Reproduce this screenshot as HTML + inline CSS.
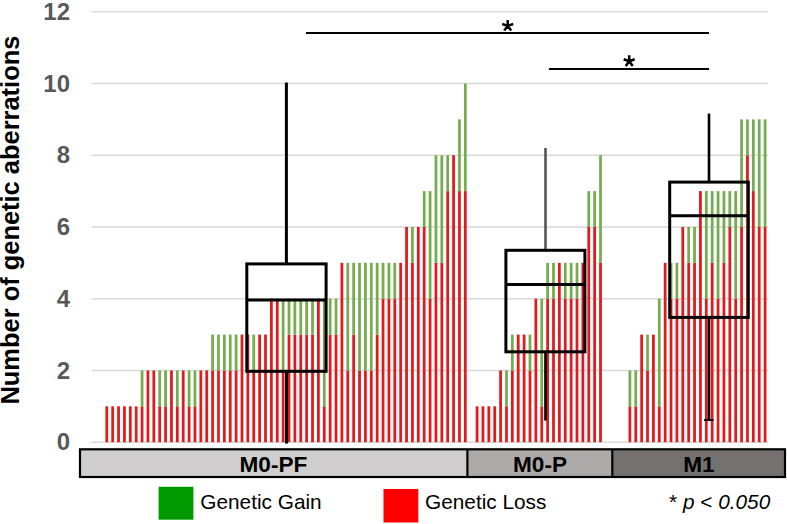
<!DOCTYPE html>
<html><head><meta charset="utf-8"><style>
html,body{margin:0;padding:0;background:#fff;}
svg{display:block;}
text{font-family:"Liberation Sans",sans-serif;}
.tick{font-size:24px;font-weight:bold;fill:#595959;}
.cat{font-size:22.6px;font-weight:bold;fill:#000;}
.leg{font-size:20.8px;fill:#000;}
.ast{font-size:38px;fill:#000;}
.yt{font-size:25.45px;font-weight:bold;fill:#000;}
</style></head><body>
<svg width="787" height="524" viewBox="0 0 787 524">
<rect width="787" height="524" fill="#fff"/>
<line x1="91.4" x2="768" y1="442.20" y2="442.20" stroke="#d9d9d9" stroke-width="1.5"/><line x1="91.4" x2="768" y1="370.46" y2="370.46" stroke="#d9d9d9" stroke-width="1.5"/><line x1="91.4" x2="768" y1="298.72" y2="298.72" stroke="#d9d9d9" stroke-width="1.5"/><line x1="91.4" x2="768" y1="226.98" y2="226.98" stroke="#d9d9d9" stroke-width="1.5"/><line x1="91.4" x2="768" y1="155.24" y2="155.24" stroke="#d9d9d9" stroke-width="1.5"/><line x1="91.4" x2="768" y1="83.50" y2="83.50" stroke="#d9d9d9" stroke-width="1.5"/><line x1="91.4" x2="768" y1="11.76" y2="11.76" stroke="#d9d9d9" stroke-width="1.5"/>
<rect x="105.42" y="406.33" width="2.75" height="35.87" fill="#e11a1c"/><rect x="111.30" y="406.33" width="2.75" height="35.87" fill="#e11a1c"/><rect x="117.18" y="406.33" width="2.75" height="35.87" fill="#e11a1c"/><rect x="123.06" y="406.33" width="2.75" height="35.87" fill="#e11a1c"/><rect x="128.94" y="406.33" width="2.75" height="35.87" fill="#e11a1c"/><rect x="134.81" y="406.33" width="2.75" height="35.87" fill="#e11a1c"/><rect x="140.69" y="406.33" width="2.75" height="35.87" fill="#e11a1c"/><rect x="140.69" y="370.46" width="2.75" height="35.87" fill="#74ac4e"/><rect x="146.57" y="370.46" width="2.75" height="71.74" fill="#e11a1c"/><rect x="152.44" y="370.46" width="2.75" height="71.74" fill="#e11a1c"/><rect x="158.32" y="406.33" width="2.75" height="35.87" fill="#e11a1c"/><rect x="158.32" y="370.46" width="2.75" height="35.87" fill="#74ac4e"/><rect x="164.20" y="406.33" width="2.75" height="35.87" fill="#e11a1c"/><rect x="164.20" y="370.46" width="2.75" height="35.87" fill="#74ac4e"/><rect x="170.08" y="370.46" width="2.75" height="71.74" fill="#e11a1c"/><rect x="175.95" y="406.33" width="2.75" height="35.87" fill="#e11a1c"/><rect x="175.95" y="370.46" width="2.75" height="35.87" fill="#74ac4e"/><rect x="181.83" y="370.46" width="2.75" height="71.74" fill="#e11a1c"/><rect x="187.71" y="406.33" width="2.75" height="35.87" fill="#e11a1c"/><rect x="187.71" y="370.46" width="2.75" height="35.87" fill="#74ac4e"/><rect x="193.59" y="406.33" width="2.75" height="35.87" fill="#e11a1c"/><rect x="193.59" y="370.46" width="2.75" height="35.87" fill="#74ac4e"/><rect x="199.47" y="370.46" width="2.75" height="71.74" fill="#e11a1c"/><rect x="205.34" y="370.46" width="2.75" height="71.74" fill="#e11a1c"/><rect x="211.22" y="370.46" width="2.75" height="71.74" fill="#e11a1c"/><rect x="211.22" y="334.59" width="2.75" height="35.87" fill="#74ac4e"/><rect x="217.10" y="370.46" width="2.75" height="71.74" fill="#e11a1c"/><rect x="217.10" y="334.59" width="2.75" height="35.87" fill="#74ac4e"/><rect x="222.98" y="370.46" width="2.75" height="71.74" fill="#e11a1c"/><rect x="222.98" y="334.59" width="2.75" height="35.87" fill="#74ac4e"/><rect x="228.85" y="370.46" width="2.75" height="71.74" fill="#e11a1c"/><rect x="228.85" y="334.59" width="2.75" height="35.87" fill="#74ac4e"/><rect x="234.73" y="370.46" width="2.75" height="71.74" fill="#e11a1c"/><rect x="234.73" y="334.59" width="2.75" height="35.87" fill="#74ac4e"/><rect x="240.61" y="334.59" width="2.75" height="107.61" fill="#e11a1c"/><rect x="246.49" y="334.59" width="2.75" height="107.61" fill="#e11a1c"/><rect x="252.36" y="370.46" width="2.75" height="71.74" fill="#e11a1c"/><rect x="252.36" y="334.59" width="2.75" height="35.87" fill="#74ac4e"/><rect x="258.24" y="334.59" width="2.75" height="107.61" fill="#e11a1c"/><rect x="264.12" y="334.59" width="2.75" height="107.61" fill="#e11a1c"/><rect x="270.00" y="298.72" width="2.75" height="143.48" fill="#e11a1c"/><rect x="275.87" y="298.72" width="2.75" height="143.48" fill="#e11a1c"/><rect x="281.75" y="370.46" width="2.75" height="71.74" fill="#e11a1c"/><rect x="281.75" y="298.72" width="2.75" height="71.74" fill="#74ac4e"/><rect x="287.63" y="334.59" width="2.75" height="107.61" fill="#e11a1c"/><rect x="287.63" y="298.72" width="2.75" height="35.87" fill="#74ac4e"/><rect x="293.50" y="334.59" width="2.75" height="107.61" fill="#e11a1c"/><rect x="293.50" y="298.72" width="2.75" height="35.87" fill="#74ac4e"/><rect x="299.38" y="334.59" width="2.75" height="107.61" fill="#e11a1c"/><rect x="299.38" y="298.72" width="2.75" height="35.87" fill="#74ac4e"/><rect x="305.26" y="334.59" width="2.75" height="107.61" fill="#e11a1c"/><rect x="305.26" y="298.72" width="2.75" height="35.87" fill="#74ac4e"/><rect x="311.14" y="334.59" width="2.75" height="107.61" fill="#e11a1c"/><rect x="311.14" y="298.72" width="2.75" height="35.87" fill="#74ac4e"/><rect x="317.01" y="298.72" width="2.75" height="143.48" fill="#e11a1c"/><rect x="322.89" y="406.33" width="2.75" height="35.87" fill="#e11a1c"/><rect x="322.89" y="298.72" width="2.75" height="107.61" fill="#74ac4e"/><rect x="328.77" y="334.59" width="2.75" height="107.61" fill="#e11a1c"/><rect x="328.77" y="298.72" width="2.75" height="35.87" fill="#74ac4e"/><rect x="334.65" y="334.59" width="2.75" height="107.61" fill="#e11a1c"/><rect x="334.65" y="298.72" width="2.75" height="35.87" fill="#74ac4e"/><rect x="340.53" y="262.85" width="2.75" height="179.35" fill="#e11a1c"/><rect x="346.40" y="370.46" width="2.75" height="71.74" fill="#e11a1c"/><rect x="346.40" y="262.85" width="2.75" height="107.61" fill="#74ac4e"/><rect x="352.28" y="334.59" width="2.75" height="107.61" fill="#e11a1c"/><rect x="352.28" y="262.85" width="2.75" height="71.74" fill="#74ac4e"/><rect x="358.16" y="370.46" width="2.75" height="71.74" fill="#e11a1c"/><rect x="358.16" y="262.85" width="2.75" height="107.61" fill="#74ac4e"/><rect x="364.04" y="370.46" width="2.75" height="71.74" fill="#e11a1c"/><rect x="364.04" y="262.85" width="2.75" height="107.61" fill="#74ac4e"/><rect x="369.91" y="370.46" width="2.75" height="71.74" fill="#e11a1c"/><rect x="369.91" y="262.85" width="2.75" height="107.61" fill="#74ac4e"/><rect x="375.79" y="334.59" width="2.75" height="107.61" fill="#e11a1c"/><rect x="375.79" y="262.85" width="2.75" height="71.74" fill="#74ac4e"/><rect x="381.67" y="298.72" width="2.75" height="143.48" fill="#e11a1c"/><rect x="381.67" y="262.85" width="2.75" height="35.87" fill="#74ac4e"/><rect x="387.55" y="298.72" width="2.75" height="143.48" fill="#e11a1c"/><rect x="387.55" y="262.85" width="2.75" height="35.87" fill="#74ac4e"/><rect x="393.42" y="298.72" width="2.75" height="143.48" fill="#e11a1c"/><rect x="393.42" y="262.85" width="2.75" height="35.87" fill="#74ac4e"/><rect x="399.30" y="262.85" width="2.75" height="179.35" fill="#e11a1c"/><rect x="405.18" y="226.98" width="2.75" height="215.22" fill="#e11a1c"/><rect x="411.06" y="262.85" width="2.75" height="179.35" fill="#e11a1c"/><rect x="411.06" y="226.98" width="2.75" height="35.87" fill="#74ac4e"/><rect x="416.93" y="226.98" width="2.75" height="215.22" fill="#e11a1c"/><rect x="422.81" y="226.98" width="2.75" height="215.22" fill="#e11a1c"/><rect x="422.81" y="191.11" width="2.75" height="35.87" fill="#74ac4e"/><rect x="428.69" y="298.72" width="2.75" height="143.48" fill="#e11a1c"/><rect x="428.69" y="191.11" width="2.75" height="107.61" fill="#74ac4e"/><rect x="434.57" y="262.85" width="2.75" height="179.35" fill="#e11a1c"/><rect x="434.57" y="155.24" width="2.75" height="107.61" fill="#74ac4e"/><rect x="440.44" y="262.85" width="2.75" height="179.35" fill="#e11a1c"/><rect x="440.44" y="155.24" width="2.75" height="107.61" fill="#74ac4e"/><rect x="446.32" y="191.11" width="2.75" height="251.09" fill="#e11a1c"/><rect x="446.32" y="155.24" width="2.75" height="35.87" fill="#74ac4e"/><rect x="452.20" y="155.24" width="2.75" height="286.96" fill="#e11a1c"/><rect x="458.08" y="191.11" width="2.75" height="251.09" fill="#e11a1c"/><rect x="458.08" y="119.37" width="2.75" height="71.74" fill="#74ac4e"/><rect x="463.95" y="191.11" width="2.75" height="251.09" fill="#e11a1c"/><rect x="463.95" y="83.50" width="2.75" height="107.61" fill="#74ac4e"/><rect x="475.71" y="406.33" width="2.75" height="35.87" fill="#e11a1c"/><rect x="481.59" y="406.33" width="2.75" height="35.87" fill="#e11a1c"/><rect x="487.46" y="406.33" width="2.75" height="35.87" fill="#e11a1c"/><rect x="493.34" y="406.33" width="2.75" height="35.87" fill="#e11a1c"/><rect x="499.22" y="370.46" width="2.75" height="71.74" fill="#e11a1c"/><rect x="505.10" y="406.33" width="2.75" height="35.87" fill="#e11a1c"/><rect x="505.10" y="370.46" width="2.75" height="35.87" fill="#74ac4e"/><rect x="510.97" y="370.46" width="2.75" height="71.74" fill="#e11a1c"/><rect x="510.97" y="334.59" width="2.75" height="35.87" fill="#74ac4e"/><rect x="516.85" y="334.59" width="2.75" height="107.61" fill="#e11a1c"/><rect x="522.73" y="334.59" width="2.75" height="107.61" fill="#e11a1c"/><rect x="528.61" y="370.46" width="2.75" height="71.74" fill="#e11a1c"/><rect x="528.61" y="334.59" width="2.75" height="35.87" fill="#74ac4e"/><rect x="534.48" y="298.72" width="2.75" height="143.48" fill="#e11a1c"/><rect x="540.36" y="406.33" width="2.75" height="35.87" fill="#e11a1c"/><rect x="540.36" y="298.72" width="2.75" height="107.61" fill="#74ac4e"/><rect x="546.24" y="298.72" width="2.75" height="143.48" fill="#e11a1c"/><rect x="546.24" y="262.85" width="2.75" height="35.87" fill="#74ac4e"/><rect x="552.12" y="298.72" width="2.75" height="143.48" fill="#e11a1c"/><rect x="552.12" y="262.85" width="2.75" height="35.87" fill="#74ac4e"/><rect x="557.99" y="262.85" width="2.75" height="179.35" fill="#e11a1c"/><rect x="563.87" y="298.72" width="2.75" height="143.48" fill="#e11a1c"/><rect x="563.87" y="262.85" width="2.75" height="35.87" fill="#74ac4e"/><rect x="569.75" y="298.72" width="2.75" height="143.48" fill="#e11a1c"/><rect x="569.75" y="262.85" width="2.75" height="35.87" fill="#74ac4e"/><rect x="575.62" y="298.72" width="2.75" height="143.48" fill="#e11a1c"/><rect x="575.62" y="262.85" width="2.75" height="35.87" fill="#74ac4e"/><rect x="581.50" y="262.85" width="2.75" height="179.35" fill="#e11a1c"/><rect x="587.38" y="226.98" width="2.75" height="215.22" fill="#e11a1c"/><rect x="587.38" y="191.11" width="2.75" height="35.87" fill="#74ac4e"/><rect x="593.26" y="226.98" width="2.75" height="215.22" fill="#e11a1c"/><rect x="593.26" y="191.11" width="2.75" height="35.87" fill="#74ac4e"/><rect x="599.13" y="262.85" width="2.75" height="179.35" fill="#e11a1c"/><rect x="599.13" y="155.24" width="2.75" height="107.61" fill="#74ac4e"/><rect x="628.52" y="406.33" width="2.75" height="35.87" fill="#e11a1c"/><rect x="628.52" y="370.46" width="2.75" height="35.87" fill="#74ac4e"/><rect x="634.40" y="406.33" width="2.75" height="35.87" fill="#e11a1c"/><rect x="634.40" y="370.46" width="2.75" height="35.87" fill="#74ac4e"/><rect x="640.28" y="334.59" width="2.75" height="107.61" fill="#e11a1c"/><rect x="646.15" y="370.46" width="2.75" height="71.74" fill="#e11a1c"/><rect x="646.15" y="334.59" width="2.75" height="35.87" fill="#74ac4e"/><rect x="652.03" y="334.59" width="2.75" height="107.61" fill="#e11a1c"/><rect x="657.91" y="406.33" width="2.75" height="35.87" fill="#e11a1c"/><rect x="657.91" y="298.72" width="2.75" height="107.61" fill="#74ac4e"/><rect x="663.79" y="262.85" width="2.75" height="179.35" fill="#e11a1c"/><rect x="669.66" y="298.72" width="2.75" height="143.48" fill="#e11a1c"/><rect x="669.66" y="262.85" width="2.75" height="35.87" fill="#74ac4e"/><rect x="675.54" y="298.72" width="2.75" height="143.48" fill="#e11a1c"/><rect x="675.54" y="262.85" width="2.75" height="35.87" fill="#74ac4e"/><rect x="681.42" y="226.98" width="2.75" height="215.22" fill="#e11a1c"/><rect x="687.30" y="262.85" width="2.75" height="179.35" fill="#e11a1c"/><rect x="687.30" y="226.98" width="2.75" height="35.87" fill="#74ac4e"/><rect x="693.17" y="262.85" width="2.75" height="179.35" fill="#e11a1c"/><rect x="693.17" y="226.98" width="2.75" height="35.87" fill="#74ac4e"/><rect x="699.05" y="191.11" width="2.75" height="251.09" fill="#e11a1c"/><rect x="704.93" y="298.72" width="2.75" height="143.48" fill="#e11a1c"/><rect x="704.93" y="191.11" width="2.75" height="107.61" fill="#74ac4e"/><rect x="710.81" y="262.85" width="2.75" height="179.35" fill="#e11a1c"/><rect x="710.81" y="191.11" width="2.75" height="71.74" fill="#74ac4e"/><rect x="716.68" y="298.72" width="2.75" height="143.48" fill="#e11a1c"/><rect x="716.68" y="191.11" width="2.75" height="107.61" fill="#74ac4e"/><rect x="722.56" y="262.85" width="2.75" height="179.35" fill="#e11a1c"/><rect x="722.56" y="191.11" width="2.75" height="71.74" fill="#74ac4e"/><rect x="728.44" y="226.98" width="2.75" height="215.22" fill="#e11a1c"/><rect x="728.44" y="191.11" width="2.75" height="35.87" fill="#74ac4e"/><rect x="734.32" y="298.72" width="2.75" height="143.48" fill="#e11a1c"/><rect x="734.32" y="191.11" width="2.75" height="107.61" fill="#74ac4e"/><rect x="740.20" y="226.98" width="2.75" height="215.22" fill="#e11a1c"/><rect x="740.20" y="119.37" width="2.75" height="107.61" fill="#74ac4e"/><rect x="746.07" y="155.24" width="2.75" height="286.96" fill="#e11a1c"/><rect x="746.07" y="119.37" width="2.75" height="35.87" fill="#74ac4e"/><rect x="751.95" y="191.11" width="2.75" height="251.09" fill="#e11a1c"/><rect x="751.95" y="119.37" width="2.75" height="71.74" fill="#74ac4e"/><rect x="757.83" y="226.98" width="2.75" height="215.22" fill="#e11a1c"/><rect x="757.83" y="119.37" width="2.75" height="107.61" fill="#74ac4e"/><rect x="763.71" y="226.98" width="2.75" height="215.22" fill="#e11a1c"/><rect x="763.71" y="119.37" width="2.75" height="107.61" fill="#74ac4e"/>
<line x1="286.4" x2="286.4" y1="82.6" y2="263.9" stroke="#000" stroke-width="3"/><line x1="286.5" x2="286.5" y1="371.2" y2="443.5" stroke="#000" stroke-width="3"/><rect x="246.8" y="263.9" width="79.30000000000001" height="107.40000000000003" fill="none" stroke="#000" stroke-width="3"/><line x1="246.8" x2="326.1" y1="299.9" y2="299.9" stroke="#000" stroke-width="3"/><line x1="545.5" x2="545.5" y1="148" y2="250.3" stroke="#555" stroke-width="2.6"/><line x1="545.5" x2="545.5" y1="351.8" y2="420.6" stroke="#000" stroke-width="2.7"/><rect x="505.9" y="250.3" width="79.0" height="101.5" fill="none" stroke="#000" stroke-width="3"/><line x1="505.9" x2="584.9" y1="284.4" y2="284.4" stroke="#000" stroke-width="3"/><line x1="709" x2="709" y1="113.6" y2="182.1" stroke="#000" stroke-width="2.6"/><line x1="709" x2="709" y1="317.4" y2="420.5" stroke="#000" stroke-width="2.6"/><line x1="704" x2="713.5" y1="420" y2="420" stroke="#000" stroke-width="1.8"/><rect x="669.7" y="182.1" width="78.59999999999991" height="135.29999999999998" fill="none" stroke="#000" stroke-width="3"/><line x1="669.7" x2="748.3" y1="215.8" y2="215.8" stroke="#000" stroke-width="3"/>

<line x1="305.9" x2="709" y1="32.9" y2="32.9" stroke="#000" stroke-width="2"/>
<line x1="548.9" x2="709" y1="68.9" y2="68.9" stroke="#000" stroke-width="2"/>
<path d="M507.70 25.90L507.70 20.00M507.70 25.90L502.20 24.00M507.70 25.90L513.20 24.00M507.70 25.90L504.20 30.60M507.70 25.90L511.20 30.60" stroke="#000" stroke-width="2.5" fill="none"/>
<path d="M629.20 61.20L629.20 55.30M629.20 61.20L623.70 59.30M629.20 61.20L634.70 59.30M629.20 61.20L625.70 65.90M629.20 61.20L632.70 65.90" stroke="#000" stroke-width="2.5" fill="none"/>

<text x="70" y="450.40" text-anchor="end" class="tick">0</text><text x="70" y="378.66" text-anchor="end" class="tick">2</text><text x="70" y="306.92" text-anchor="end" class="tick">4</text><text x="70" y="235.18" text-anchor="end" class="tick">6</text><text x="70" y="163.44" text-anchor="end" class="tick">8</text><text x="70" y="91.70" text-anchor="end" class="tick">10</text><text x="70" y="19.96" text-anchor="end" class="tick">12</text>

<rect x="80" y="449.3" width="387.4" height="27.7" fill="#d0cece"/>
<rect x="467.4" y="449.3" width="144.9" height="27.7" fill="#aeaaaa"/>
<rect x="612.3" y="449.3" width="172.7" height="27.7" fill="#767171"/>
<rect x="80" y="449.3" width="705" height="27.7" fill="none" stroke="#000" stroke-width="2.2"/>
<line x1="467.4" x2="467.4" y1="449.3" y2="477" stroke="#000" stroke-width="2.2"/>
<line x1="612.3" x2="612.3" y1="449.3" y2="477" stroke="#000" stroke-width="2.2"/>
<text x="273.4" y="471.5" text-anchor="middle" class="cat">M0-PF</text>
<text x="540" y="471.5" text-anchor="middle" class="cat">M0-P</text>
<text x="699" y="471.5" text-anchor="middle" class="cat">M1</text>


<rect x="158.6" y="486.8" width="34.8" height="32.9" fill="#009900"/>
<text x="200.3" y="508.8" class="leg">Genetic Gain</text>
<rect x="383.5" y="489" width="34.8" height="33.5" fill="#ff0000"/>
<text x="425" y="509.3" class="leg">Genetic Loss</text>
<text x="669" y="509.4" class="leg">* <tspan font-style="italic">p</tspan> &lt; <tspan font-style="italic">0.050</tspan></text>

<text transform="translate(18.9,220.1) rotate(-90)" text-anchor="middle" class="yt">Number of genetic aberrations</text>
</svg>
</body></html>
